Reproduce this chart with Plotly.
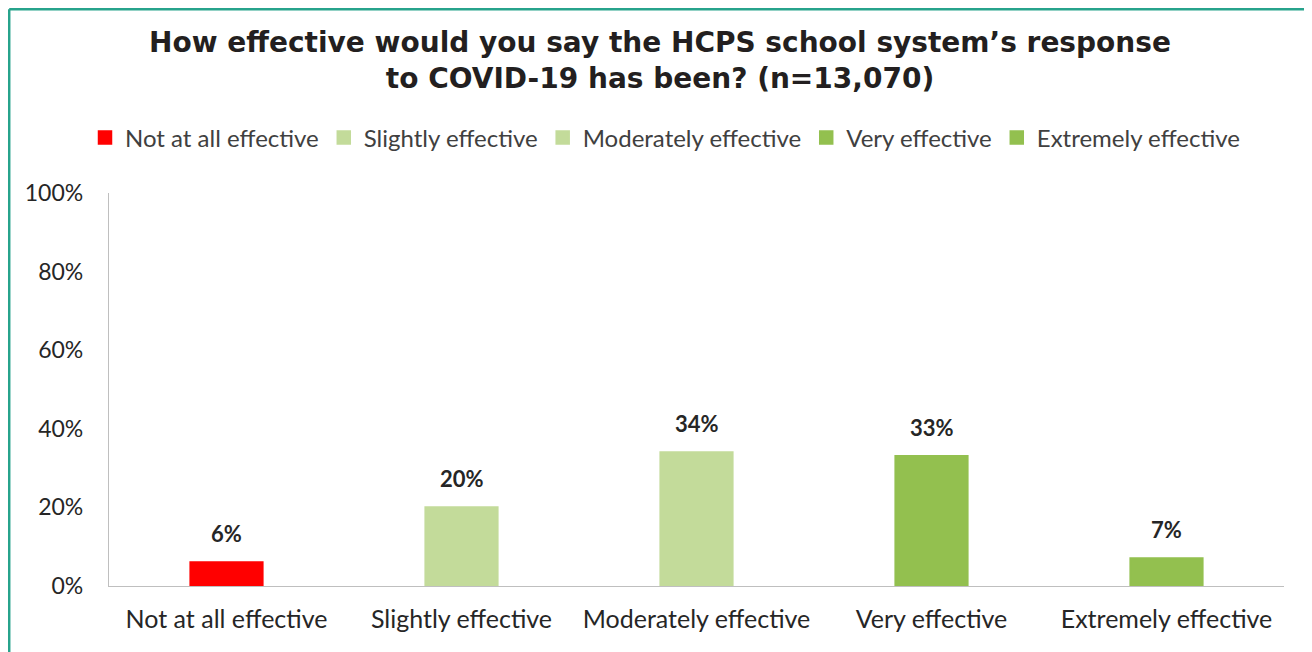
import plotly.graph_objects as go

categories = ["Not at all effective", "Slightly effective", "Moderately effective",
              "Very effective", "Extremely effective"]
values = [6, 20, 34, 33, 7]
labels = ["6%", "20%", "34%", "33%", "7%"]
colors = ["#FF0000", "#C3DB9A", "#C3DB9A", "#93C04F", "#93C04F"]
y_ticks = [0, 20, 40, 60, 80, 100]
y_tick_text = ["0%", "20%", "40%", "60%", "80%", "100%"]

# page is rendered with an 8px body margin; coordinates below are in figure px
OFF = 8
W, H = 1312, 652
L, R, T = 109 - OFF, 28 + OFF, 193 - OFF
B = H - (586 - OFF)
pw, ph = W - L - R, H - T - B

def fx(p):
    return (p - L) / pw

def fy(p):
    return (H - B - p) / ph

def px_x(p):
    return fx(p - OFF)

def px_y(p):
    return fy(p - OFF)

fig = go.Figure()
for c, v, col in zip(categories, values, colors):
    fig.add_trace(go.Bar(x=[c], y=[v], name=c, marker_color=col, width=0.305,
                         marker_line=dict(color=col, width=2.5),
                         hoverinfo="skip"))

for c, v, t in zip(categories, values, labels):
    fig.add_annotation(x=c, y=v, text="<b>" + t + "</b>", showarrow=False,
                       yanchor="bottom", yshift=13,
                       font=dict(family="Lato", size=22, color="#262626"))

teal = "#27A38C"
fig.add_shape(type="line", xref="paper", yref="paper",
              x0=fx(1.2), x1=fx(W + 20), y0=fy(1.2), y1=fy(1.2),
              line=dict(color=teal, width=2.5))
fig.add_shape(type="line", xref="paper", yref="paper",
              x0=fx(1.2), x1=fx(1.2), y0=fy(1.2), y1=fy(H + 20),
              line=dict(color=teal, width=2.5))

fig.update_layout(
    width=W, height=H,
    margin=dict(l=L, r=R, t=T, b=B),
    paper_bgcolor="white", plot_bgcolor="white",
    barmode="overlay",
    title=dict(text="<b>How effective would you say the HCPS school system’s response<br>to COVID-19 has been? (n=13,070)</b>",
               x=(660 - OFF) / W, xanchor="center", y=1 - 44 / H, yanchor="top",
               font=dict(family="DejaVu Sans", size=28, color="#231F20")),
    legend=dict(orientation="h", x=px_x(665), xanchor="center",
                y=px_y(138), yanchor="middle",
                font=dict(family="Lato", size=24, color="#404040"),
                itemwidth=30, tracegroupgap=0),
    showlegend=True,
    xaxis=dict(showline=True, linecolor="#BFBFBF", linewidth=1.3,
               showgrid=False, tickfont=dict(family="Lato", size=25, color="#262626"),
               ticks="", ticklabelstandoff=11),
    yaxis=dict(range=[0, 100], tickvals=y_ticks, ticktext=y_tick_text,
               showline=True, linecolor="#BFBFBF", linewidth=1.3,
               showgrid=False, zeroline=False, ticks="",
               tickfont=dict(family="Lato", size=23, color="#262626"),
               ticklabelstandoff=20),
)

fig.write_html("out.html")
